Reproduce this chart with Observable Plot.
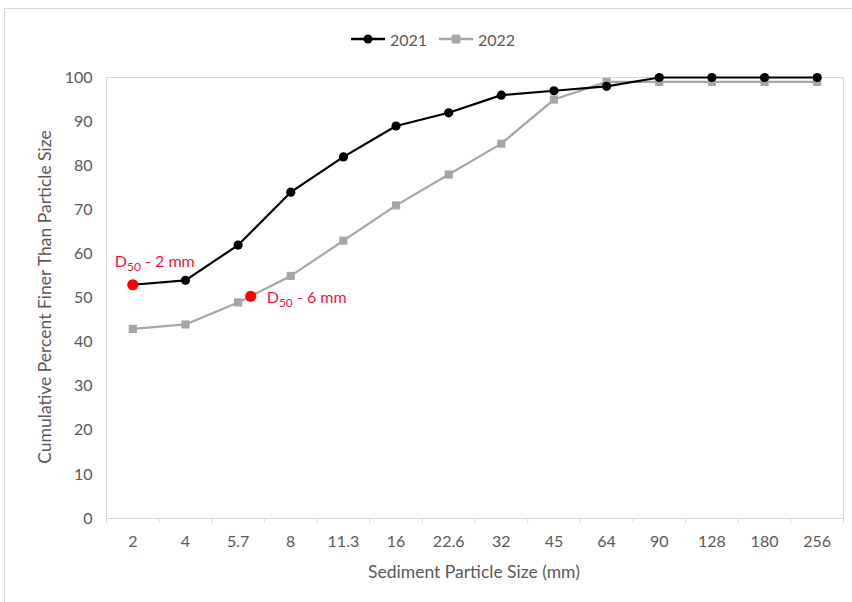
<!DOCTYPE html>
<html><head><meta charset="utf-8">
<script src="https://cdn.jsdelivr.net/npm/d3@7"></script>
<script src="https://cdn.jsdelivr.net/npm/@observablehq/plot@0.6"></script>
<style>
body{margin:0;background:#fff;font-family:Lato,"Open Sans",sans-serif;}
#wrap{position:relative;width:852px;height:602px;overflow:hidden;}
#frame{position:absolute;left:4px;top:8px;width:900px;height:620px;border:1px solid #d9d9d9;}
#legend{position:absolute;top:28px;left:7px;width:852px;height:22px;display:flex;justify-content:center;align-items:center;gap:12px;font-size:16px;color:#595959;}
#legend .item{display:flex;align-items:center;gap:5px;}
#chart{position:absolute;top:56px;left:0;}
</style>
</head><body>
<div id="wrap">
<div id="frame"></div>
<div id="legend"></div>
<div id="chart"></div>
</div>
<script>
const sizes = ["2","4","5.7","8","11.3","16","22.6","32","45","64","90","128","180","256"];
const pct2021 = [53,54,62,74,82,89,92,96,97,98,100,100,100,100];
const pct2022 = [43,44,49,55,63,71,78,85,95,99,99,99,99,99];
const seriesNames = ["2021","2022"];
const seriesColors = ["#000000","#a6a6a6"];
const d50Labels = ["D50 - 2 mm","D50 - 6 mm"];
const d50Index = [0, 2.24];
const d50Pct = [53, 50.4];
const yTicks = [0,10,20,30,40,50,60,70,80,90,100];

const rows2021 = sizes.map((s,i)=>({i, v:pct2021[i]}));
const rows2022 = sizes.map((s,i)=>({i, v:pct2022[i]}));
const d50 = d50Labels.map((t,k)=>({i:d50Index[k], v:d50Pct[k], t}));
const bounds = d3.range(sizes.length+1).map(k=>k-0.5);

// legend
const leg = document.getElementById("legend");
seriesNames.forEach((n,k)=>{
  const sym = k===0
    ? `<circle cx="17" cy="7" r="4.5" fill="${seriesColors[k]}"/>`
    : `<rect x="12.5" y="2.5" width="9" height="9" rx="1.5" fill="${seriesColors[k]}"/>`;
  leg.insertAdjacentHTML("beforeend",
    `<span class="item"><svg width="34" height="14"><line x1="0" y1="7" x2="34" y2="7" stroke="${seriesColors[k]}" stroke-width="2.5"/>${sym}</svg><span>${n}</span></span>`);
});

const chart = Plot.plot({
  width: 852, height: 546,
  marginLeft: 106, marginRight: 9, marginTop: 21, marginBottom: 84,
  style: {fontFamily: "Lato, 'Open Sans', sans-serif", fontSize: "16px", color: "#595959", background: "transparent"},
  x: {type: "linear", domain: [-0.5, sizes.length-0.5]},
  y: {domain: [0, 100]},
  marks: [
    Plot.frame({stroke: "#d9d9d9"}),
    Plot.axisX({ticks: bounds, tickFormat: () => "", tickSize: 5, stroke: "#d9d9d9", label: null}),
    Plot.axisY({ticks: yTicks, tickSize: 0, tickPadding: 14, label: null, fill: "#595959"}),
    Plot.axisX({ticks: d3.range(sizes.length), tickFormat: i=>sizes[i], tickSize: 0, tickPadding: 17, label: null, fill: "#595959"}),
    Plot.line(rows2022, {x: "i", y: "v", stroke: seriesColors[1], strokeWidth: 2.2}),
    Plot.dot(rows2022, {x: "i", y: "v", fill: seriesColors[1], symbol: "square", r: 4.6}),
    Plot.line(rows2021, {x: "i", y: "v", stroke: seriesColors[0], strokeWidth: 2.2}),
    Plot.dot(rows2021, {x: "i", y: "v", fill: seriesColors[0], r: 4.6}),
    Plot.dot(d50, {x: "i", y: "v", fill: "#ff0000", r: 5.6}),
    Plot.text(d50.slice(0,1), {x: "i", y: "v", text: "t", textAnchor: "start", dx: -18, dy: -23, fill: "#f01446", fontSize: 16, className: "d50lab"}),
    Plot.text(d50.slice(1), {x: "i", y: "v", text: "t", textAnchor: "start", dx: 16, dy: 2, fill: "#f01446", fontSize: 16, className: "d50lab"})
  ]
});
document.getElementById("chart").appendChild(chart);

// subscript "50" in the D50 labels
d3.select(chart).selectAll(".d50lab text").each(function(){
  const s = this.textContent;
  const t = d3.select(this);
  t.text(null);
  t.append("tspan").text(s.slice(0,1));
  t.append("tspan").attr("dy", 4).style("font-size","12px").text(s.slice(1,3));
  t.append("tspan").attr("dy", -4).text(s.slice(3));
});

// axis titles as real text inside the SVG
const svg = d3.select(chart);
svg.append("text").attr("x", 474).attr("y", 522).attr("text-anchor","middle")
  .attr("fill","#595959").style("font-size","17.5px").text("Sediment Particle Size (mm)");
svg.append("text").attr("transform","translate(51,241) rotate(-90)").attr("text-anchor","middle")
  .attr("fill","#595959").style("font-size","17.5px").text("Cumulative Percent Finer Than Particle Size");
</script>
</body></html>
